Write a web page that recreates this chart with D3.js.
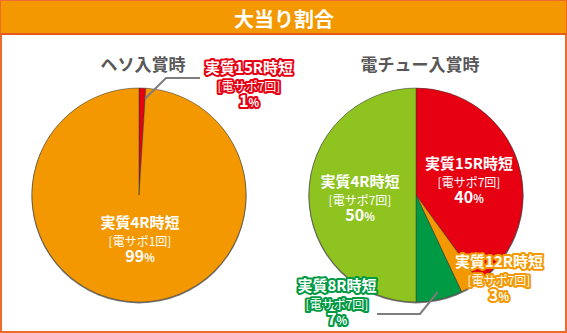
<!DOCTYPE html>
<html><head><meta charset="utf-8">
<script src="https://cdn.jsdelivr.net/npm/d3@7"></script>
<style>
html,body{margin:0;padding:0;background:#fff;}
svg{display:block;font-family:"Noto Sans CJK JP","Noto Sans",sans-serif;}
</style></head><body>
<script>
const title = "大当り割合";
const pieTitles = ["ヘソ入賞時", "電チュー入賞時"];
// left pie (ヘソ)
const leftNames = ["実質15R時短", "実質4R時短"];
const leftSub = ["[電サポ7回]", "[電サポ1回]"];
const leftValues = [1, 99];
const leftColors = ["#e60012", "#f39800"];
// right pie (電チュー)
const rightNames = ["実質15R時短", "実質12R時短", "実質8R時短", "実質4R時短"];
const rightSub = ["[電サポ7回]", "[電サポ7回]", "[電サポ7回]", "[電サポ7回]"];
const rightValues = [40, 3, 7, 50];
const rightColors = ["#e60012", "#f39800", "#009944", "#8fc31f"];

const W = 567, H = 333;
const svg = d3.select("body").append("svg").attr("width", W).attr("height", H);

// frame
svg.append("rect").attr("x", 1).attr("y", 1).attr("width", W - 2).attr("height", H - 2)
  .attr("fill", "#fff").attr("stroke", "#ec6b2d").attr("stroke-width", 2);
svg.append("rect").attr("x", 1).attr("y", 1).attr("width", W - 2).attr("height", 32)
  .attr("fill", "#f39800");
svg.append("line").attr("x1", 1).attr("x2", W - 1).attr("y1", 34).attr("y2", 34)
  .attr("stroke", "#e8581a").attr("stroke-width", 2);
svg.append("text").attr("x", 284).attr("y", 18).attr("text-anchor", "middle")
  .attr("dominant-baseline", "central").attr("fill", "#fff")
  .attr("font-size", 20).attr("font-weight", 700).text(title);

const R = 107;
const pies = [
  {cx: 139, cy: 195, values: leftValues, colors: leftColors},
  {cx: 416, cy: 195, values: rightValues, colors: rightColors}
];
const pieGen = d3.pie().sort(null).value(d => d);
const arc = d3.arc().innerRadius(0).outerRadius(R);

pies.forEach((p, i) => {
  svg.append("text").attr("x", p.cx + 4).attr("y", 63).attr("text-anchor", "middle")
    .attr("dominant-baseline", "central").attr("fill", "#595757")
    .attr("font-size", 17).attr("font-weight", 700).text(pieTitles[i]);
  const g = svg.append("g").attr("transform", `translate(${p.cx},${p.cy})`);
  g.append("circle").attr("r", R + 0.6).attr("cy", 0.8).attr("fill", "#777");
  g.selectAll("path").data(pieGen(p.values)).join("path")
    .attr("d", arc).attr("fill", (d, j) => p.colors[j])
    .attr("stroke", "#3a3a3a").attr("stroke-width", 0.5);
});

// leader lines
const lineColor = "#7d7d7d";
function leader(pts) {
  svg.append("path").attr("d", d3.line()(pts)).attr("fill", "none")
    .attr("stroke", lineColor).attr("stroke-width", 2);
}
{
  const a = pieGen(leftValues)[0];
  const mid = (a.startAngle + a.endAngle) / 2;
  const r0 = R * 0.9;
  const x0 = pies[0].cx + Math.sin(mid) * r0 + 3, y0 = pies[0].cy - Math.cos(mid) * r0;
  leader([[x0, y0], [166, 78], [200, 78]]);
}
{
  const a = pieGen(rightValues)[2];
  const mid = (a.startAngle + a.endAngle) / 2;
  const r0 = R * 0.93;
  const x0 = pies[1].cx + Math.sin(mid) * r0, y0 = pies[1].cy - Math.cos(mid) * r0;
  leader([[x0, y0], [420, 314], [377, 314]]);
}

function label(x, y, name, sub, pct, outline) {
  const t = svg.append("text").attr("transform", `translate(${x},${y})`)
    .attr("text-anchor", "middle").attr("fill", "#fff").attr("font-weight", 700);
  t.append("tspan").attr("x", 0).attr("y", 5).attr("font-size", 15).text(name);
  t.append("tspan").attr("x", 0).attr("y", 22.5).attr("font-size", 12).attr("font-weight", 400).text(sub);
  const p = t.append("tspan").attr("x", 0).attr("y", 39).attr("font-size", 16);
  t.append("tspan").attr("font-size", 11).text("%");
  p.text(pct);
  if (outline) t.attr("stroke", outline).attr("stroke-width", 4).attr("stroke-linejoin", "round")
    .attr("paint-order", "stroke");
}

label(140, 223, leftNames[1], leftSub[1], leftValues[1], null);
label(249, 68, leftNames[0], leftSub[0], leftValues[0], leftColors[0]);
label(360, 182, rightNames[3], rightSub[3], rightValues[3], null);
label(469, 164, rightNames[0], rightSub[0], rightValues[0], null);
label(499, 262, rightNames[1], rightSub[1], rightValues[1], rightColors[1]);
label(337, 286, rightNames[2], rightSub[2], rightValues[2], rightColors[2]);
</script>
</body></html>
